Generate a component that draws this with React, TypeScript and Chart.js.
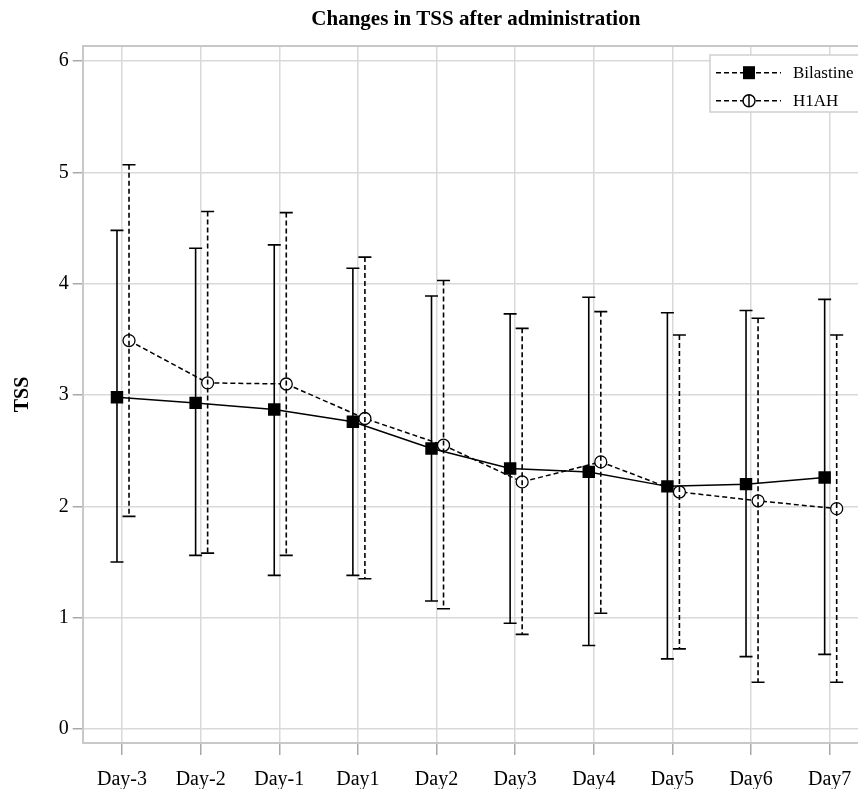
import React, { useEffect, useRef } from "react";
import { Chart, registerables } from "chart.js";

Chart.register(...registerables);

const categories = ["Day-3", "Day-2", "Day-1", "Day1", "Day2", "Day3", "Day4", "Day5", "Day6", "Day7"];
const seriesNames = ["Bilastine", "H1AH"];
const bilastineMean = [2.98, 2.93, 2.87, 2.76, 2.52, 2.34, 2.31, 2.18, 2.2, 2.26];
const bilastineUpper = [4.48, 4.32, 4.35, 4.14, 3.89, 3.73, 3.88, 3.74, 3.76, 3.86];
const bilastineLower = [1.5, 1.56, 1.38, 1.38, 1.15, 0.95, 0.75, 0.63, 0.65, 0.67];
const h1ahMean = [3.49, 3.11, 3.1, 2.79, 2.55, 2.22, 2.4, 2.13, 2.05, 1.98];
const h1ahUpper = [5.07, 4.65, 4.64, 4.24, 4.03, 3.6, 3.75, 3.54, 3.69, 3.54];
const h1ahLower = [1.91, 1.58, 1.56, 1.35, 1.08, 0.85, 1.04, 0.72, 0.42, 0.42];
const yTicks = [0, 1, 2, 3, 4, 5, 6];

const DODGE_B = -0.064;
const DODGE_H = 0.089;
const SERIF = '"Liberation Serif", "Times New Roman", serif';
const DASH = [5, 3];

const errorBarPlugin = {
  id: "errorBars",
  afterDatasetsDraw(chart: any) {
    const ctx = chart.ctx;
    const xs = chart.scales.x;
    const ys = chart.scales.y;
    const groups = [
      { dodge: DODGE_B, up: bilastineUpper, lo: bilastineLower, dash: [] as number[] },
      { dodge: DODGE_H, up: h1ahUpper, lo: h1ahLower, dash: DASH },
    ];
    ctx.save();
    ctx.strokeStyle = "#000";
    ctx.lineWidth = 1.6;
    for (const g of groups) {
      categories.forEach((_, i) => {
        const x = xs.getPixelForValue(i + g.dodge);
        const yu = ys.getPixelForValue(g.up[i]);
        const yl = ys.getPixelForValue(g.lo[i]);
        ctx.setLineDash(g.dash);
        ctx.beginPath();
        ctx.moveTo(x, yu);
        ctx.lineTo(x, yl);
        ctx.stroke();
        ctx.setLineDash([]);
        ctx.beginPath();
        ctx.moveTo(x - 6.5, yu);
        ctx.lineTo(x + 6.5, yu);
        ctx.moveTo(x - 6.5, yl);
        ctx.lineTo(x + 6.5, yl);
        ctx.stroke();
      });
    }
    ctx.restore();
  },
};

const framePlugin = {
  id: "frameAndLegend",
  afterDraw(chart: any) {
    const ctx = chart.ctx;
    const a = chart.chartArea;
    ctx.save();
    ctx.strokeStyle = "#c8c8c8";
    ctx.lineWidth = 2;
    ctx.beginPath();
    ctx.moveTo(a.left, a.top);
    ctx.lineTo(a.right, a.top);
    ctx.lineTo(a.right, a.bottom);
    ctx.stroke();

    // legend
    const lx = 710;
    const ly = 55;
    const lh = 57;
    ctx.fillStyle = "#fff";
    ctx.fillRect(lx, ly, 400, lh);
    ctx.strokeStyle = "#cfcfcf";
    ctx.lineWidth = 1.5;
    ctx.strokeRect(lx, ly, 400, lh);

    const rows = [72.7, 100.7];
    rows.forEach((ry, k) => {
      ctx.strokeStyle = "#000";
      ctx.lineWidth = 1.5;
      ctx.setLineDash(DASH);
      ctx.beginPath();
      ctx.moveTo(716, ry);
      ctx.lineTo(781, ry);
      ctx.stroke();
      ctx.setLineDash([]);
      const mx = 749;
      if (k === 0) {
        ctx.fillStyle = "#000";
        ctx.fillRect(mx - 6, ry - 6.5, 12, 13);
      } else {
        ctx.fillStyle = "#fff";
        ctx.beginPath();
        ctx.arc(mx, ry, 6, 0, Math.PI * 2);
        ctx.fill();
        ctx.stroke();
        ctx.beginPath();
        ctx.moveTo(mx, ry - 6);
        ctx.lineTo(mx, ry + 6);
        ctx.stroke();
      }
      ctx.fillStyle = "#000";
      ctx.font = `17px ${SERIF}`;
      ctx.textBaseline = "middle";
      ctx.textAlign = "left";
      ctx.fillText(seriesNames[k], 793, ry + 1);
    });
    ctx.restore();
  },
};

export default function App() {
  const canvasRef = useRef<HTMLCanvasElement | null>(null);

  useEffect(() => {
    if (!canvasRef.current) return;
    const chart = new Chart(canvasRef.current, {
      type: "line",
      data: {
        datasets: [
          {
            label: seriesNames[0],
            data: bilastineMean.map((v, i) => ({ x: i + DODGE_B, y: v })),
            borderColor: "#000",
            backgroundColor: "#000",
            borderWidth: 1.5,
            pointStyle: "rect",
            pointRadius: 8.8,
            pointBorderWidth: 0,
            pointBackgroundColor: "#000",
          },
          {
            label: seriesNames[1],
            data: h1ahMean.map((v, i) => ({ x: i + DODGE_H, y: v })),
            borderColor: "#000",
            backgroundColor: "#fff",
            borderWidth: 1.5,
            borderDash: DASH,
            pointStyle: "circle",
            pointRadius: 6,
            pointBorderWidth: 1.3,
            pointBackgroundColor: "#fff",
          },
        ],
      },
      options: {
        animation: false,
        responsive: true,
        maintainAspectRatio: false,
        layout: { padding: { left: 0, right: 11, top: 0, bottom: 0 } },
        plugins: {
          legend: { display: false },
          tooltip: { enabled: false },
          title: {
            display: true,
            fullSize: false,
            text: "Changes in TSS after administration",
            color: "#000",
            font: { family: SERIF, size: 21, weight: "bold" },
            padding: { top: 7, bottom: 13.8 },
          },
        },
        scales: {
          x: {
            type: "linear",
            min: -0.5,
            max: 9.5,
            afterBuildTicks: (scale: any) => {
              scale.ticks = categories.map((_, i) => ({ value: i }));
            },
            afterFit: (scale: any) => {
              scale.height = 46;
            },
            ticks: {
              color: "#000",
              font: { family: SERIF, size: 20 },
              padding: 13,
              autoSkip: false,
              maxRotation: 0,
              callback: (v: any) => categories[Math.round(Number(v))] ?? "",
            },
            grid: {
              color: "#d9d9d9",
              lineWidth: 1.5,
              tickColor: "#a8a8a8",
              tickLength: 12,
              tickWidth: 1.5,
            },
            border: { color: "#c8c8c8", width: 2 },
          },
          y: {
            type: "linear",
            min: -0.126,
            max: 6.137,
            afterBuildTicks: (scale: any) => {
              scale.ticks = yTicks.map((v) => ({ value: v }));
            },
            afterFit: (scale: any) => {
              scale.width = 82.7;
            },
            ticks: {
              color: "#000",
              font: { family: SERIF, size: 20 },
              padding: 4,
              callback: (v: any) => String(v),
            },
            grid: {
              color: "#d9d9d9",
              lineWidth: 1.5,
              tickColor: "#a8a8a8",
              tickLength: 10,
              tickWidth: 1.5,
            },
            border: { color: "#c8c8c8", width: 2 },
            title: {
              display: true,
              text: "TSS",
              color: "#000",
              font: { family: SERIF, size: 20, weight: "bold" },
              padding: { top: 11, bottom: 0 },
            },
          },
        },
      },
      plugins: [errorBarPlugin, framePlugin],
    } as any);
    return () => chart.destroy();
  }, []);

  return (
    <div style={{ position: "fixed", left: 0, top: 0, width: 880, height: 789, background: "#fff" }}>
      <canvas ref={canvasRef} />
    </div>
  );
}
